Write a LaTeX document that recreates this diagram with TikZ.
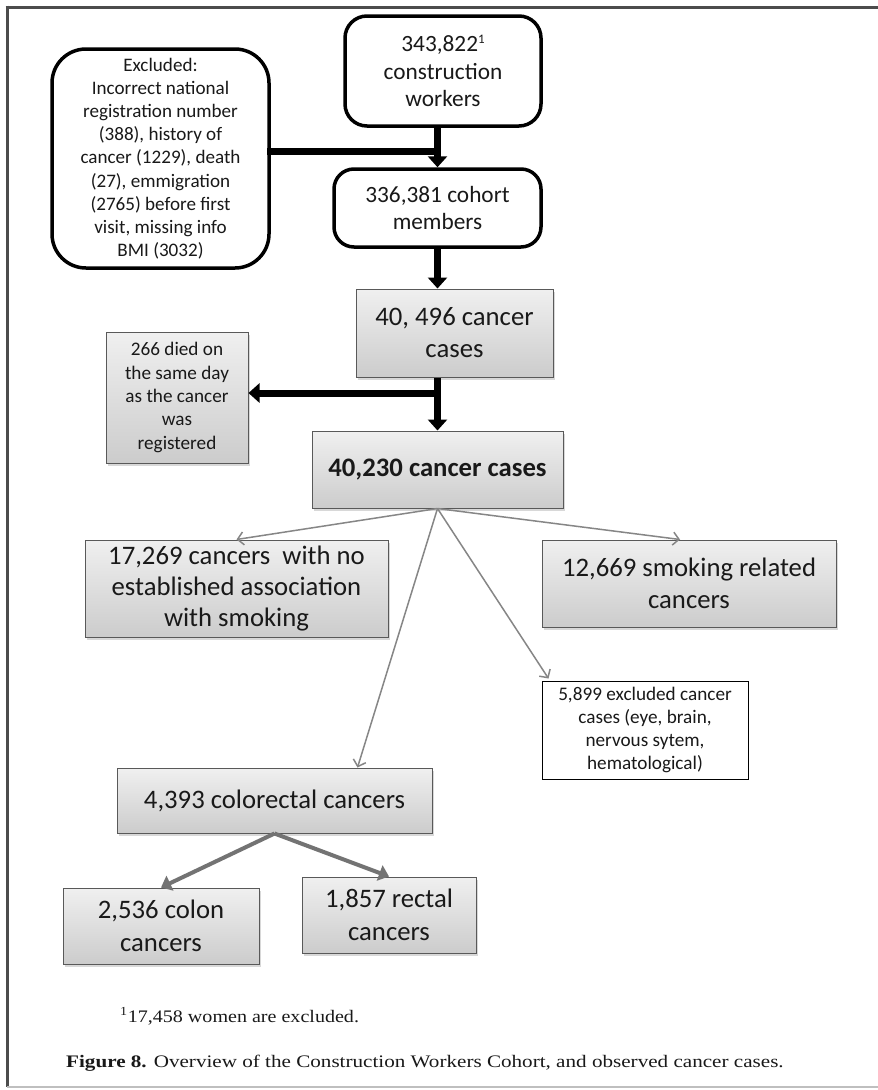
\documentclass[tikz,border=0pt]{standalone}
\usepackage{graphicx}
\usepackage{fontspec}
\setmainfont{Carlito}
\newfontfamily\capfont{Liberation Serif}
\usetikzlibrary{arrows.meta,shadows,calc}
\begin{document}
\begin{tikzpicture}[x=1pt,y=-1pt,
  every node/.style={inner sep=0pt, align=center, text=black!90},
  rbox/.style={draw=black, line width=3.5pt, fill=white},
  gbox/.style={draw=black!65, line width=1pt, top color=gray!12, bottom color=gray!40,
     drop shadow={shadow xshift=2pt, shadow yshift=-3pt, opacity=0.3}},
  wbox/.style={draw=black, line width=1pt, fill=white},
  big/.style={font=\fontsize{26.7}{32}\selectfont},
  mid/.style={font=\fontsize{23.3}{27.5}\selectfont},
  small/.style={font=\fontsize{19.2}{23.3}\selectfont},
  blk/.style={line width=7pt, draw=black, -{Triangle[length=11pt,width=19pt]}},
  bar/.style={line width=7pt, draw=black, line cap=rect},
  thinarr/.style={draw=gray!95, line width=1.5pt, -{Straight Barb[length=6pt,width=13pt]}},
  garr/.style={draw=black!55, line width=4pt, -{Triangle[length=10pt,width=16pt]}},
  capstyle/.style={font=\capfont\fontsize{17.6}{20}\selectfont, anchor=base west}
]
\useasboundingbox (0,0) rectangle (878,1090);
\fill[white] (0,0) rectangle (878,1090);
% frame
\draw[line width=3pt, black!70] (5.5,7) -- (878,7);
\draw[line width=3pt, black!70] (7,5.5) -- (7,1087);
\draw[line width=1.5pt, black!25] (7,1087) -- (878,1087);

% top boxes
\node[rbox, rounded corners=22pt, mid, minimum width=196pt, minimum height=110pt] (top) at (443,71)
  {343,822\raisebox{8pt}{\fontsize{13}{13}\selectfont 1}\\construction\\workers};
\node[rbox, rounded corners=34pt, font=\fontsize{19.1}{23.2}\selectfont, minimum width=217pt, minimum height=219pt] (excl) at (160.5,158.5)
  {Excluded:\\Incorrect national\\registration number\\(388), history of\\cancer (1229), death\\(27), emmigration\\(2765) before first\\visit, missing info\\BMI (3032)};
\node[rbox, rounded corners=20pt, mid, minimum width=207pt, minimum height=78pt] (cohort) at (437.5,208)
  {336,381 cohort\\members};

\node[gbox, big, minimum width=197pt, minimum height=88pt] (b496) at (454.5,333)
  {40, 496 cancer\\cases};
\node[gbox, small, minimum width=142pt, minimum height=131pt] (b266) at (177,397.5)
  {266 died on\\the same day\\as the cancer\\was\\registered};
\node[gbox, big, minimum width=251pt, minimum height=77pt] (b230) at (437.5,469.5)
  {\textbf{40,230 cancer cases}};

\node[gbox, font=\fontsize{26.7}{31}\selectfont, minimum width=303pt, minimum height=97pt] (b17) at (236.5,588.5)
  {17,269 cancers\ \ with no\\established association\\with smoking};
\node[gbox, big, minimum width=294pt, minimum height=87pt] (b12) at (689,583.5)
  {12,669 smoking related\\cancers};
\node[wbox, small, minimum width=206pt, minimum height=98pt] (b5) at (645,730)
  {5,899 excluded cancer\\cases (eye, brain,\\nervous sytem,\\hematological)};
\node[gbox, big, minimum width=315pt, minimum height=65pt] (b4) at (274.5,800.5)
  {4,393 colorectal cancers};
\node[gbox, font=\fontsize{26.7}{33}\selectfont, minimum width=196pt, minimum height=76pt] (colon) at (161,926)
  {2,536 colon\\cancers};
\node[gbox, font=\fontsize{26.7}{33}\selectfont, minimum width=174pt, minimum height=76pt] (rectal) at (389,915)
  {1,857 rectal\\cancers};

% thick black connectors
\coordinate (j1) at (437.5,151);
\draw[bar] (excl.east |- j1) -- (j1);
\draw[blk] (top.south -| cohort.north) -- (cohort.north);
\draw[blk] (cohort.south) -- (cohort.south |- b496.north);
\coordinate (j2) at (437.5,393);
\draw[blk] (cohort.south |- b496.south) -- (b230.north);
\draw[blk] (j2) -- (b266.east |- j2);

% thin gray connectors
\draw[thinarr] (b230.south) -- (b17.north);
\draw[thinarr] (b230.south) -- ($(b12.north)+(-9,0)$);
\draw[thinarr] (b230.south) -- ($(b5.north west)+(7,-2)$);
\draw[thinarr] (b230.south) -- ($(b4.north)+(83,0)$);

% bottom connectors
\draw[garr] (b4.south) -- (colon.north);
\draw[garr] (b4.south) -- (rectal.north);

% footnote and caption
\node[capstyle] (fn) at (120,1022) {\scalebox{1.14}[1]{\textsuperscript{1}17,458 women are excluded.}};
\node[capstyle] (cap) at (66,1067) {\scalebox{1.2}[1]{\textbf{Figure 8.} Overview of the Construction Workers Cohort, and observed cancer cases.}};
\end{tikzpicture}
\end{document}
